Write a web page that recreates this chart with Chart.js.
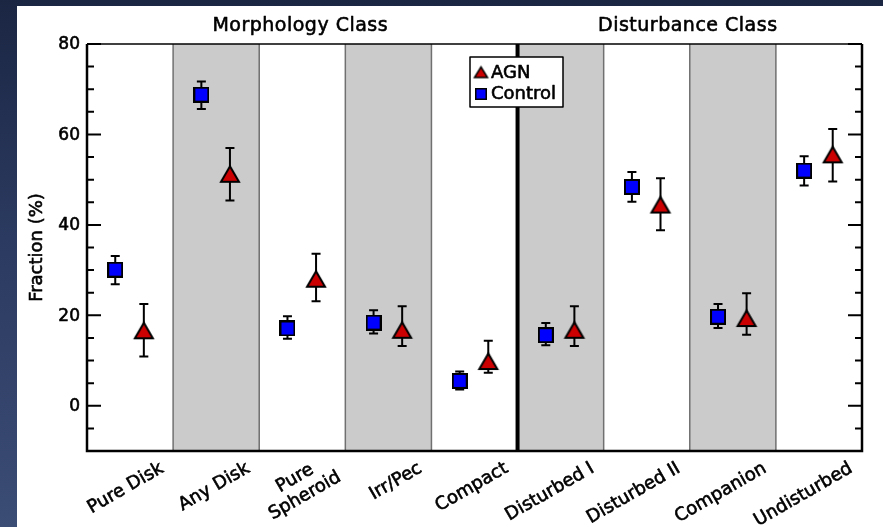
<!DOCTYPE html>
<html>
<head>
<meta charset="utf-8">
<script src="https://cdn.jsdelivr.net/npm/chart.js@4.4.0/dist/chart.umd.min.js"></script>
<style>
  html, body { margin: 0; padding: 0; }
  body {
    width: 883px; height: 527px; overflow: hidden; position: relative;
    background: linear-gradient(180deg, #1b2643 0%, #2b3a60 45%, #3b4c75 100%);
  }
  #panel { position: absolute; left: 17px; top: 6px; width: 866px; height: 521px; background: #fff; }
</style>
</head>
<body>
<div id="panel"><canvas id="myChart" width="866" height="521"></canvas></div>
<script>
// Categories on the x axis, and the two class groups above them
const categories = ['Pure Disk', 'Any Disk', ['Pure', 'Spheroid'], 'Irr/Pec', 'Compact',
                    'Disturbed I', 'Disturbed II', 'Companion', 'Undisturbed'];
const groupTitles = ['Morphology Class', 'Disturbance Class'];
const groupRanges = [[0, 4], [5, 8]];

// Control sample: fraction (%) and error bar ends
const control     = [30.1, 68.8, 17.1, 18.4, 5.5, 15.6, 48.4, 19.7, 52.0];
const controlLow  = [26.9, 65.6, 14.8, 16.0, 3.6, 13.4, 45.1, 17.2, 48.7];
const controlHigh = [33.1, 71.7, 19.8, 21.1, 7.6, 18.3, 51.7, 22.5, 55.2];

// AGN sample: fraction (%) and error bar ends
const agn     = [16.7, 51.3, 28.1, 16.8, 9.9, 16.8, 44.5, 19.4, 55.6];
const agnLow  = [10.9, 45.4, 23.1, 13.2, 7.3, 13.2, 38.8, 15.7, 49.6];
const agnHigh = [22.5, 57.0, 33.6, 22.0, 14.4, 22.0, 50.3, 24.9, 61.2];

// y axis tick labels
const yTickLabels = [0, 20, 40, 60, 80];

const FONT = "'DejaVu Sans', sans-serif";
const X_CONTROL = -0.172, X_AGN = 0.16;
Chart.defaults.font.family = FONT;

// marker images (bbox centred on the data point)
function makeSquare(size, border) {
    const c = document.createElement('canvas');
    c.width = size; c.height = size;
    const g = c.getContext('2d');
    g.fillStyle = '#000';
    g.fillRect(0, 0, size, size);
    g.fillStyle = '#0000ff';
    g.fillRect(border, border, size - 2 * border, size - 2 * border);
    return c;
}
function makeTriangle(w, h, lw) {
    const pad = 4;
    const c = document.createElement('canvas');
    c.width = w + 2 * pad; c.height = h + 2 * pad;
    const g = c.getContext('2d');
    const cx = c.width / 2;
    g.beginPath();
    g.moveTo(cx, pad + 0.5);
    g.lineTo(cx + w / 2, pad + h);
    g.lineTo(cx - w / 2, pad + h);
    g.closePath();
    g.fillStyle = '#cc0000';
    g.fill();
    g.lineWidth = lw;
    g.strokeStyle = '#000';
    g.stroke();
    return c;
}
const squareImg = makeSquare(16, 2);
const triImg = makeTriangle(18, 16, 2);
const squareSmall = makeSquare(12, 1.5);
const triSmall = makeTriangle(13, 11, 1.5);

// slightly heavy text, like the original plot fonts
function text(ctx, t, x, y) {
    ctx.fillText(t, x, y);
    ctx.strokeText(t, x, y);
}

// shaded bands, separators and error bars under the markers
const backdrop = {
    id: 'backdrop',
    beforeDatasetsDraw(chart) {
        const { ctx, chartArea: ca, scales: { x, y } } = chart;
        ctx.save();
        categories.forEach((c, i) => {
            if (i % 2 === 1) {
                const x0 = x.getPixelForValue(i - 0.5), x1 = x.getPixelForValue(i + 0.5);
                ctx.fillStyle = '#cbcbcb';
                ctx.fillRect(x0, ca.top, x1 - x0, ca.bottom - ca.top);
            }
        });
        for (let i = 0; i < categories.length - 1; i++) {
            const px = x.getPixelForValue(i + 0.5);
            const split = i === groupRanges[0][1];
            ctx.strokeStyle = split ? '#000' : '#707070';
            ctx.lineWidth = split ? 4 : 1.5;
            ctx.beginPath();
            ctx.moveTo(px, ca.top);
            ctx.lineTo(px, ca.bottom);
            ctx.stroke();
        }
        // error bars
        const sets = [[control, controlLow, controlHigh, X_CONTROL], [agn, agnLow, agnHigh, X_AGN]];
        ctx.strokeStyle = '#000';
        ctx.lineWidth = 2;
        sets.forEach(([vals, lo, hi, off]) => {
            vals.forEach((v, i) => {
                const px = x.getPixelForValue(i + off);
                const yl = y.getPixelForValue(lo[i]), yh = y.getPixelForValue(hi[i]);
                ctx.beginPath();
                ctx.moveTo(px, yl); ctx.lineTo(px, yh);
                ctx.moveTo(px - 4.5, yl); ctx.lineTo(px + 4.5, yl);
                ctx.moveTo(px - 4.5, yh); ctx.lineTo(px + 4.5, yh);
                ctx.stroke();
            });
        });
        ctx.restore();
    },
    afterDraw(chart) {
        const { ctx, chartArea: ca, scales: { x, y } } = chart;
        ctx.save();
        // frame
        ctx.strokeStyle = '#000';
        ctx.lineWidth = 1.5;
        ctx.beginPath();
        ctx.moveTo(ca.left, ca.top); ctx.lineTo(ca.right, ca.top);
        ctx.stroke();
        ctx.lineWidth = 2.5;
        ctx.beginPath();
        ctx.moveTo(ca.left, ca.top); ctx.lineTo(ca.left, ca.bottom);
        ctx.lineTo(ca.right, ca.bottom); ctx.lineTo(ca.right, ca.top);
        ctx.stroke();
        // inward ticks on both y axes
        ctx.lineWidth = 2;
        for (let v = -5; v <= 80; v += 5) {
            const py = y.getPixelForValue(v);
            const len = v % 20 === 0 ? 14 : 7;
            ctx.beginPath();
            ctx.moveTo(ca.left, py); ctx.lineTo(ca.left + len, py);
            ctx.moveTo(ca.right, py); ctx.lineTo(ca.right - len, py);
            ctx.stroke();
        }

        ctx.fillStyle = '#000';
        ctx.strokeStyle = '#000';
        ctx.lineWidth = 0.6;
        ctx.lineJoin = 'round';

        // y tick labels and axis title
        ctx.font = '17px ' + FONT;
        ctx.textAlign = 'right';
        ctx.textBaseline = 'middle';
        y.ticks.forEach(t => {
            if (yTickLabels.includes(t.value)) text(ctx, String(t.value), ca.left - 7, y.getPixelForValue(t.value) + 1);
        });
        ctx.save();
        ctx.translate(20, (ca.top + ca.bottom) / 2);
        ctx.rotate(-Math.PI / 2);
        ctx.textAlign = 'center';
        ctx.font = '18px ' + FONT;
        text(ctx, 'Fraction (%)', 0, 0);
        ctx.restore();

        // group titles
        ctx.save();
        ctx.font = '19px ' + FONT;
        ctx.letterSpacing = '0.5px';
        ctx.textAlign = 'center';
        ctx.textBaseline = 'middle';
        groupTitles.forEach((t, k) => {
            const [a, b] = groupRanges[k];
            const px = (x.getPixelForValue(a - 0.5) + x.getPixelForValue(b + 0.5)) / 2;
            text(ctx, t, px - 2, ca.top - 18);
        });
        ctx.restore();

        // rotated category labels
        ctx.font = '18px ' + FONT;
        categories.forEach((lab, i) => {
            const lines = Array.isArray(lab) ? lab : [lab];
            ctx.save();
            ctx.translate(x.getPixelForValue(i) + 28, ca.bottom + 9);
            ctx.rotate(-Math.PI / 6);
            ctx.textBaseline = 'alphabetic';
            ctx.textAlign = 'center';
            const bw = Math.max(...lines.map(t => ctx.measureText(t).width));
            const lh = 20;
            const y0 = 13 - (lines.length - 1) * lh / 2;
            lines.forEach((t, k) => text(ctx, t, -bw / 2, y0 + k * lh));
            ctx.restore();
        });

        // legend box
        const lx = ca.left + 383, ly = ca.top + 13;
        ctx.fillStyle = '#fff';
        ctx.fillRect(lx, ly, 93, 50);
        ctx.lineWidth = 1.5;
        ctx.strokeRect(lx, ly, 93, 50);
        ctx.drawImage(triSmall, lx + 11 - triSmall.width / 2, ly + 15 - triSmall.height / 2);
        ctx.drawImage(squareSmall, lx + 11 - squareSmall.width / 2, ly + 37 - squareSmall.height / 2);
        ctx.fillStyle = '#000';
        ctx.lineWidth = 0.6;
        ctx.textAlign = 'left';
        ctx.textBaseline = 'middle';
        ctx.font = '18px ' + FONT;
        text(ctx, 'AGN', lx + 21, ly + 16);
        text(ctx, 'Control', lx + 21, ly + 37);
        ctx.restore();
    }
};

const ctx = document.getElementById('myChart').getContext('2d');
new Chart(ctx, {
    type: 'scatter',
    data: {
        datasets: [{
            label: 'AGN',
            data: agn.map((v, i) => ({ x: i + X_AGN, y: v })),
            pointStyle: triImg,
            pointRadius: 10
        }, {
            label: 'Control',
            data: control.map((v, i) => ({ x: i + X_CONTROL, y: v })),
            pointStyle: squareImg,
            pointRadius: 8
        }]
    },
    options: {
        responsive: false,
        animation: false,
        layout: { padding: { top: 38, right: 21, left: 0, bottom: 0 } },
        plugins: { legend: { display: false }, tooltip: { enabled: false } },
        scales: {
            x: {
                type: 'linear', min: -0.5, max: 8.5,
                afterFit: s => { s.height = 76; },
                ticks: { display: false },
                grid: { display: false, drawTicks: false },
                border: { display: false }
            },
            y: {
                min: -10, max: 80,
                afterFit: s => { s.width = 70; },
                grid: { display: false, drawTicks: false },
                border: { display: false },
                ticks: { display: false, stepSize: 20 }
            }
        }
    },
    plugins: [backdrop]
});
</script>
</body>
</html>
